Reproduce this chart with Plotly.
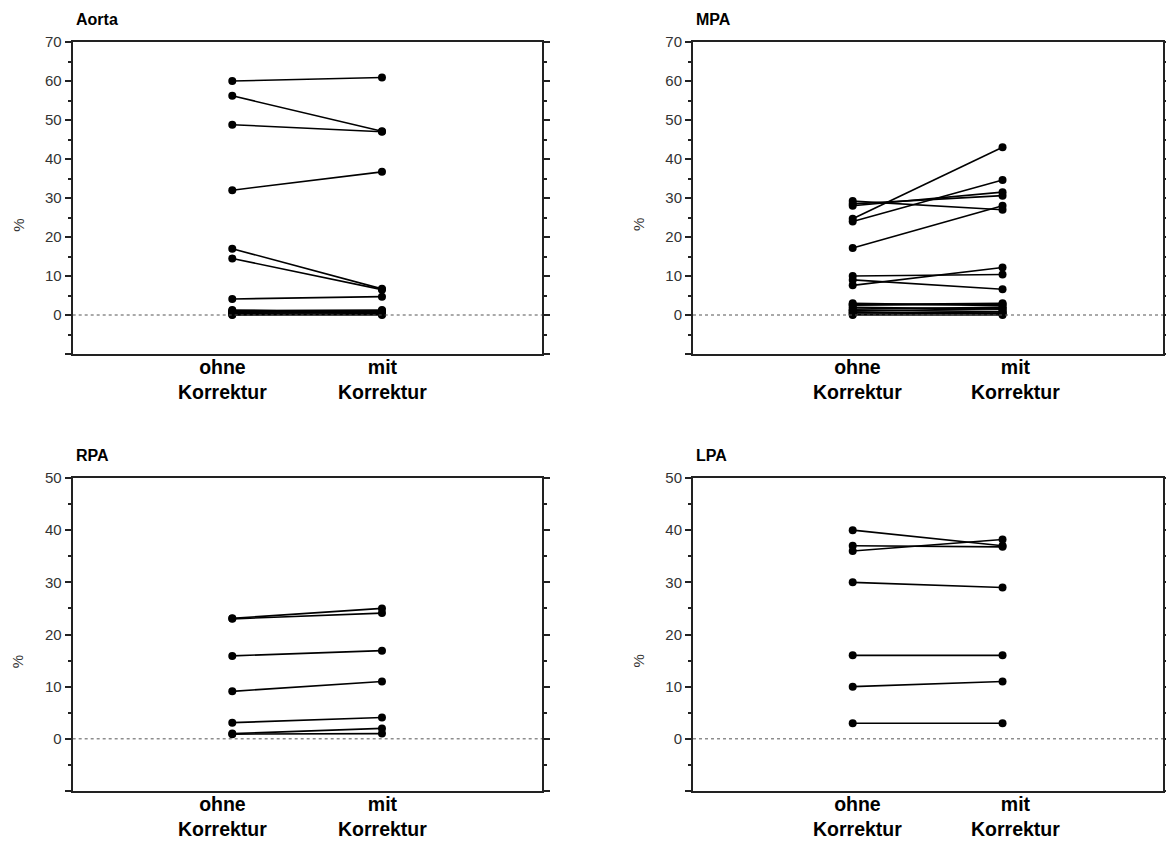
import plotly.graph_objects as go

# ---------------- data ----------------
categories = ["ohne<br>Korrektur", "mit<br>Korrektur"]
panel_titles = ["Aorta", "MPA", "RPA", "LPA"]

aorta_ohne = [60, 56.2, 48.8, 32, 17, 14.5, 4.1,
              1.3, 1.1, 0.9, 0.7, 0.5, 0.3, 0.1, 0]
aorta_mit = [60.9, 47.1, 47.0, 36.7, 6.7, 6.5, 4.7,
             0.5, 1.3, 1.1, 0.9, 0.7, 0.2, 0.4, 0]

mpa_ohne = [29.2, 28.5, 28.0, 24.7, 24.0, 17.2, 10.0, 9.0, 7.6,
            3.0, 2.7, 2.5, 2.0, 1.5, 1.2, 1.0, 0.7, 0.5, 0.2, 0]
mpa_mit = [27.0, 30.6, 31.5, 43.0, 34.6, 28.0, 10.4, 6.6, 12.2,
           2.4, 3.0, 2.8, 1.5, 2.0, 0.9, 1.6, 0.3, 0.8, 0.5, 0]

rpa_ohne = [23.1, 23.0, 15.9, 9.1, 3.1, 1.0, 0.9]
rpa_mit = [25.0, 24.1, 16.9, 11.0, 4.1, 2.0, 1.0]

lpa_ohne = [40.0, 37.0, 36.0, 30.0, 16.0, 10.0, 3.0]
lpa_mit = [37.0, 36.8, 38.2, 29.0, 16.0, 11.0, 3.0]

top_ticks = [-10, 0, 10, 20, 30, 40, 50, 60, 70]
bottom_ticks = [-10, 0, 10, 20, 30, 40, 50]

panels = [
    (aorta_ohne, aorta_mit, top_ticks),
    (mpa_ohne, mpa_mit, top_ticks),
    (rpa_ohne, rpa_mit, bottom_ticks),
    (lpa_ohne, lpa_mit, bottom_ticks),
]

# ---------------- layout geometry ----------------
W, H = 1166, 841
x_doms = [[72.7 / W, 542.3 / W], [693 / W, 1163 / W]]
y_doms = [[1 - 354 / H, 1 - 42 / H], [1 - 791 / H, 1 - 478 / H]]
label_shift = [[-9.5, 0.5], [5, 12.5]]

fig = go.Figure()
layout = dict(
    width=W, height=H,
    margin=dict(l=0, r=0, t=0, b=0, pad=0, autoexpand=False),
    paper_bgcolor="white", plot_bgcolor="white",
    showlegend=False,
    font=dict(family="Liberation Sans, Arial, sans-serif", color="#222"),
)
annotations = []
shapes = []

for i, (ohne, mit, ticks) in enumerate(panels):
    col = i % 2
    row = i // 2
    ax = "" if i == 0 else str(i + 1)
    xa, ya = "x" + ax, "y" + ax
    for a, b in zip(ohne, mit):
        fig.add_trace(go.Scatter(
            x=[1, 2], y=[a, b], mode="lines+markers",
            line=dict(color="black", width=1.6),
            marker=dict(color="black", size=8),
            xaxis=xa, yaxis=ya, hoverinfo="y",
        ))
    layout["xaxis" + ax] = dict(
        domain=x_doms[col], range=[-0.066, 3.071], anchor=ya,
        showline=True, linecolor="#222", linewidth=2, mirror=True,
        showgrid=False, zeroline=False, showticklabels=False, ticks="",
        automargin=False,
    )
    layout["yaxis" + ax] = dict(
        domain=y_doms[row], range=[ticks[0], ticks[-1]], anchor=xa,
        showline=True, linecolor="#222", linewidth=2, mirror="ticks",
        showgrid=False, zeroline=False, automargin=False,
        tickmode="array", tickvals=ticks,
        ticktext=["" if t < 0 else str(t) for t in ticks],
        ticks="outside", ticklen=6, tickwidth=1.5, tickcolor="#222",
        tickfont=dict(size=15, color="#333"),
        minor=dict(dtick=5, tick0=0, ticks="outside", ticklen=3,
                   tickwidth=1.5, tickcolor="#222", showgrid=False),
    )
    # dotted zero line
    shapes.append(dict(type="line", xref=xa + " domain", yref=ya,
                       x0=0, x1=1, y0=0, y1=0,
                       line=dict(color="#555", width=1, dash="dot")))
    # category labels
    for k, cat in enumerate(categories):
        annotations.append(dict(
            x=k + 1, y=0, xref=xa, yref=ya + " domain",
            text="<b>" + cat + "</b>", showarrow=False,
            xanchor="center", yanchor="top", yshift=0,
            xshift=label_shift[col][k],
            font=dict(size=19.5, color="black"),
        ))
    # panel title
    annotations.append(dict(
        x=0, y=1, xref=xa + " domain", yref=ya + " domain",
        text="<b>" + panel_titles[i] + "</b>", showarrow=False,
        xanchor="left", yanchor="bottom", yshift=12, xshift=1,
        font=dict(size=16, color="black"),
    ))
    # y axis title
    annotations.append(dict(
        x=0, y=0.5, xref=xa + " domain", yref=ya + " domain",
        text="%", showarrow=False, textangle=-90,
        xanchor="center", yanchor="middle", xshift=-55, yshift=-27,
        font=dict(size=15, color="#333"),
    ))

layout["annotations"] = annotations
layout["shapes"] = shapes
fig.update_layout(**layout)
fig.write_html("out.html")
